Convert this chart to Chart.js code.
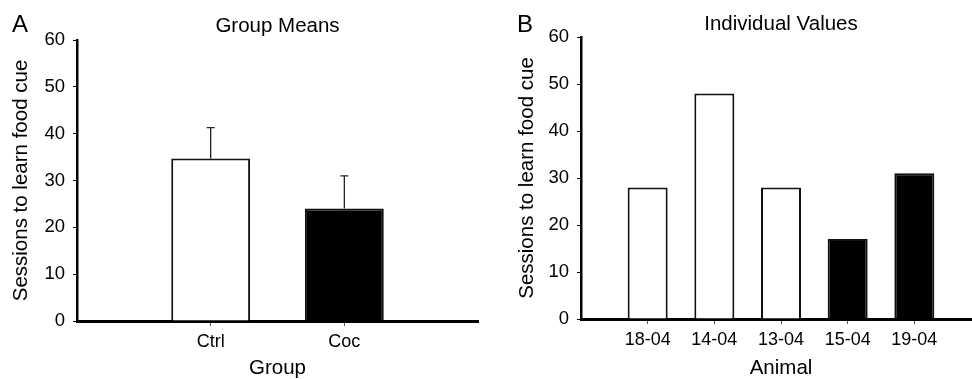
<!DOCTYPE html>
<html>
<head>
<meta charset="utf-8">
<script src="https://cdn.jsdelivr.net/npm/chart.js@4"></script>
<style>
  html, body { margin: 0; padding: 0; background: #fff; overflow: hidden; }
  #wrap { position: relative; width: 972px; height: 379px; overflow: hidden; }
  .panel { position: absolute; top: 0; height: 379px; overflow: hidden; }
  .letter { position: absolute; top: 12px; font: 24px "Liberation Sans", Arial, sans-serif; line-height: 1; color: #000; }
</style>
</head>
<body>
<div id="wrap">
  <div class="panel" style="left:0;width:486px"><canvas id="meansChart" width="486" height="379"></canvas></div>
  <div class="panel" style="left:486px;width:486px"><canvas id="animalChart" width="500" height="379"></canvas></div>
  <span class="letter" style="left:12px">A</span>
  <span class="letter" style="left:517px">B</span>
</div>
<script>
const groups = ["Ctrl", "Coc"];
const groupMeans = [34.7, 24];
const groupSem = [6.6, 7];

const animals = ["18-04", "14-04", "13-04", "15-04", "19-04"];
const animalGroup = ["Ctrl", "Ctrl", "Ctrl", "Coc", "Coc"];
const animalSessions = [28, 48, 28, 17, 31];

const yTicks = [0, 10, 20, 30, 40, 50, 60];

const FONT = '"Liberation Sans", Arial, sans-serif';
const fill = g => (g === "Ctrl" ? "#ffffff" : "#000000");

// error bars (upward only) drawn from dataset option "errors"
const errorBars = {
  id: "errorBars",
  afterDatasetsDraw(chart) {
    const { ctx } = chart;
    const y = chart.scales.y;
    chart.data.datasets.forEach((ds, di) => {
      if (!ds.errors) return;
      chart.getDatasetMeta(di).data.forEach((bar, i) => {
        const v = ds.data[i], e = ds.errors[i];
        if (v == null || e == null) return;
        const top = y.getPixelForValue(v + e);
        ctx.save();
        ctx.strokeStyle = "#222";
        ctx.lineWidth = 1.3;
        ctx.beginPath();
        ctx.moveTo(bar.x, bar.y);
        ctx.lineTo(bar.x, top);
        ctx.moveTo(bar.x - 4, top);
        ctx.lineTo(bar.x + 4, top);
        ctx.stroke();
        ctx.restore();
      });
    });
  }
};

const makePanel = (id, title, xTitle, cats, values, colors, errors, cfg) => {
  // empty slots at both ends, ticks fall on category positions
  const labels = ["", ...cats, ""];
  new Chart(document.getElementById(id), {
    type: "bar",
    data: {
      labels,
      datasets: [{
        data: [null, ...values, null],
        errors: errors ? [null, ...errors, null] : null,
        backgroundColor: ["#fff", ...colors, "#fff"],
        borderColor: "#111",
        borderWidth: 2,
        barPercentage: cfg.barPct,
        categoryPercentage: 1
      }]
    },
    options: {
      responsive: false,
      animation: false,
      layout: { padding: { left: cfg.padLeft, right: cfg.padRight, top: 0, bottom: 0 } },
      plugins: {
        legend: { display: false },
        tooltip: { enabled: false },
        title: {
          display: true,
          text: title,
          fullSize: false,
          color: "#000",
          font: { family: FONT, size: 20.5, weight: "normal", lineHeight: 1.2 },
          padding: { top: cfg.titleTop, bottom: cfg.titleBottom }
        }
      },
      scales: {
        x: {
          offset: false,
          afterFit: s => { s.height = cfg.xHeight; },
          border: { display: true, color: "#000", width: 3 },
          grid: {
            offset: false,
            drawOnChartArea: false,
            tickLength: 5,
            lineWidth: 1,
            color: c => (c.tick && c.tick.label ? "#555" : "rgba(0,0,0,0)")
          },
          ticks: { color: "#000", padding: 5, font: { family: FONT, size: 18 }, maxRotation: 0, autoSkip: false },
          title: {
            display: true,
            text: xTitle,
            color: "#000",
            font: { family: FONT, size: 20.5, lineHeight: 1 },
            padding: { top: 0, bottom: 0 }
          }
        },
        y: {
          min: 0,
          max: 60,
          afterFit: s => { s.width = cfg.yWidth; },
          afterBuildTicks: s => { s.ticks = yTicks.map(v => ({ value: v })); },
          border: { display: true, color: "#000", width: 2.5 },
          grid: { drawOnChartArea: false, tickLength: 4, color: "#000", lineWidth: 1 },
          ticks: { color: "#000", padding: 8, font: { family: FONT, size: 18.5 } },
          title: {
            display: true,
            text: "Sessions to learn food cue",
            color: "#000",
            font: { family: FONT, size: 20.5, lineHeight: 1.2 },
            padding: { top: 8.7, bottom: 0 }
          }
        }
      }
    },
    plugins: [errorBars]
  });
};

makePanel("meansChart", "Group Means", "Group", groups, groupMeans, groups.map(fill), groupSem,
  { padLeft: 0, padRight: 8, yWidth: 77, xHeight: 58, titleTop: 14.2, titleBottom: 1.2, barPct: 0.59 });

makePanel("animalChart", "Individual Values", "Animal", animals, animalSessions, animalGroup.map(fill), null,
  { padLeft: 20, padRight: 5, yWidth: 75, xHeight: 60, titleTop: 12.4, titleBottom: 0, barPct: 0.6 });
</script>
</body>
</html>
